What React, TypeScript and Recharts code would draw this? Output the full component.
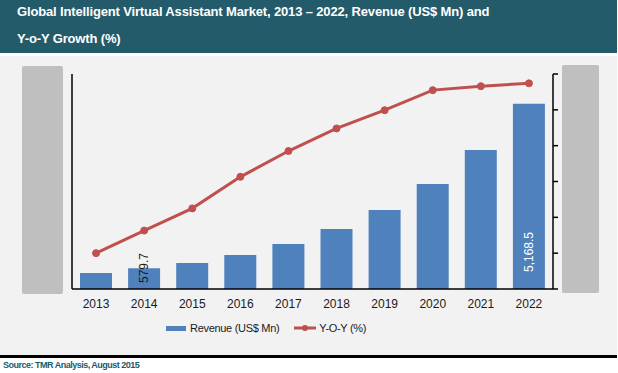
import {
  ComposedChart,
  Bar,
  Line,
  XAxis,
  YAxis,
  Legend,
  LabelList,
} from 'recharts'

const years = ['2013', '2014', '2015', '2016', '2017', '2018', '2019', '2020', '2021', '2022']
const revenue = [446, 579.7, 725, 949, 1256, 1674, 2204, 2930, 3878, 5168.5]
const yoy = [10.0, 16.3, 22.5, 31.3, 38.5, 44.8, 49.9, 55.5, 56.6, 57.4]
const barLabels = ['', '579.7', '', '', '', '', '', '', '', '5,168.5']
const revenueTicks = [0, 1000, 2000, 3000, 4000, 5000, 6000]
const yoyTicks = [0, 10, 20, 30, 40, 50, 60]

const data = years.map((year, i) => ({
  year,
  revenue: revenue[i],
  yoy: yoy[i],
  label: barLabels[i],
}))

const FONT = 'Arial, "Liberation Sans", sans-serif'
const BLUE = '#4F81BD'
const RED = '#C0504D'

function BarLabel(props: any) {
  const { x, y, width, height, value } = props
  if (!value) return null
  const cx = x + width / 2
  const inside = height > 40
  const by = y + height - (inside ? 17 : 6)
  return (
    <text
      x={cx}
      y={by}
      transform={`rotate(-90, ${cx}, ${by})`}
      textAnchor="start"
      dominantBaseline="central"
      fontSize={12}
      fontFamily={FONT}
      fill={inside ? '#FFFFFF' : '#1A1A1A'}
    >
      {value}
    </text>
  )
}

function LegendContent() {
  return (
    <div
      style={{
        display: 'flex',
        alignItems: 'center',
        fontFamily: FONT,
        fontSize: 11,
        letterSpacing: -0.3,
        color: '#1A1A1A',
        whiteSpace: 'nowrap',
      }}
    >
      <span style={{ width: 20, height: 5, background: BLUE, display: 'inline-block', marginRight: 4 }} />
      <span>Revenue (US$ Mn)</span>
      <svg width={22} height={10} style={{ marginLeft: 15, marginRight: 3 }}>
        <line x1={0} y1={5} x2={22} y2={5} stroke={RED} strokeWidth={3} />
        <circle cx={11} cy={5} r={3} fill={RED} />
      </svg>
      <span>Y-O-Y (%)</span>
    </div>
  )
}

const EmptyTick = () => <g />

export default function App() {
  return (
    <div style={{ position: 'absolute', left: 0, top: 0, width: 618, height: 373, background: '#FFFFFF', fontFamily: FONT }}>
      <div
        style={{
          position: 'absolute',
          left: 0,
          top: 0,
          width: 617,
          height: 55,
          background: '#245B6B',
          color: '#FFFFFF',
          fontWeight: 'bold',
          fontSize: 13,
          letterSpacing: -0.15,
          lineHeight: '27px',
          paddingLeft: 17,
          boxSizing: 'border-box',
          marginTop: -2,
        }}
      >
        <div>Global Intelligent Virtual Assistant Market, 2013 – 2022, Revenue (US$ Mn) and</div>
        <div>Y-o-Y Growth (%)</div>
      </div>
      <div style={{ position: 'absolute', left: 0, top: 56, width: 617, height: 299, background: '#F2F2F2' }}>
        <ComposedChart
          width={617}
          height={299}
          data={data}
          margin={{ top: 18, right: 0, bottom: 36, left: 0 }}
        >
          <XAxis
            dataKey="year"
            axisLine={{ stroke: '#000000', strokeWidth: 1.5 }}
            tickLine={false}
            tickMargin={4}
            height={30}
            tick={{ fontSize: 12, fill: '#1A1A1A', fontFamily: FONT }}
          />
          <YAxis
            yAxisId="left"
            width={72}
            domain={[0, 6000]}
            ticks={revenueTicks}
            axisLine={{ stroke: '#000000', strokeWidth: 1.5 }}
            tickLine={false}
            tick={EmptyTick}
          />
          <YAxis
            yAxisId="right"
            orientation="right"
            width={64}
            domain={[0, 60]}
            ticks={yoyTicks}
            axisLine={{ stroke: '#000000', strokeWidth: 1.5 }}
            tickLine={{ stroke: '#000000', strokeWidth: 1.5 }}
            tickSize={5}
            tick={EmptyTick}
          />
          <Legend
            layout="horizontal"
            verticalAlign="middle"
            align="center"
            content={<LegendContent />}
            wrapperStyle={{ position: 'absolute', left: 166, top: 266, width: 'auto' }}
          />
          <Bar yAxisId="left" dataKey="revenue" fill={BLUE} barSize={32} isAnimationActive={false}>
            <LabelList dataKey="label" content={<BarLabel />} />
          </Bar>
          <Line
            yAxisId="right"
            dataKey="yoy"
            stroke={RED}
            strokeWidth={3}
            dot={{ r: 3.5, fill: RED, stroke: RED, strokeWidth: 1 }}
            activeDot={false}
            isAnimationActive={false}
          />
        </ComposedChart>
        <div style={{ position: 'absolute', left: 22, top: 10, width: 41, height: 228, background: '#BFBFBF', borderRadius: 2 }} />
        <div style={{ position: 'absolute', left: 562, top: 9, width: 37, height: 228, background: '#BFBFBF', borderRadius: 2 }} />
      </div>
      <div style={{ position: 'absolute', left: 0, top: 355, width: 617, height: 3, background: '#000000' }} />
      <div
        style={{
          position: 'absolute',
          left: 3,
          top: 360,
          fontSize: 9,
          letterSpacing: -0.5,
          fontWeight: 'bold',
          color: '#215B6B',
          whiteSpace: 'nowrap',
        }}
      >
        Source: TMR Analysis, August 2015
      </div>
    </div>
  )
}
